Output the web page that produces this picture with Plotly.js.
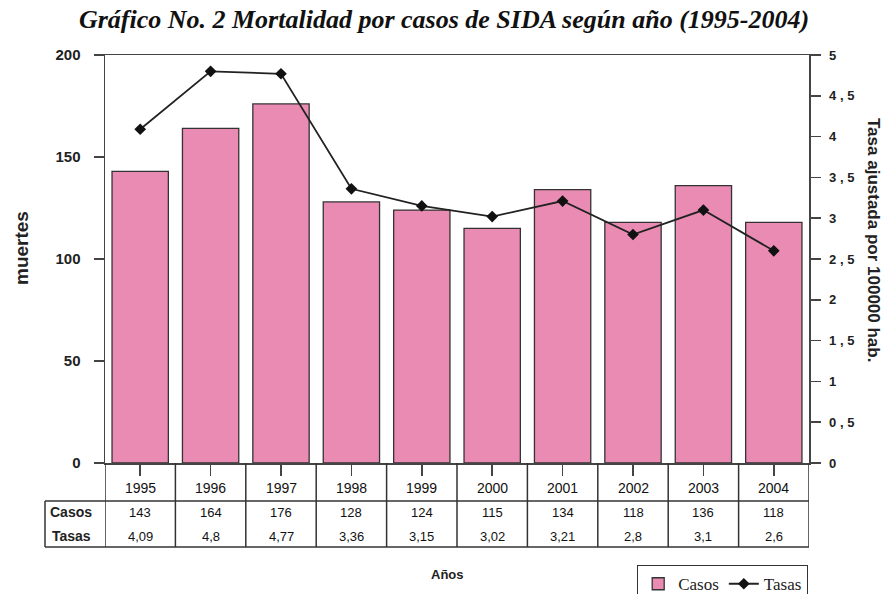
<!DOCTYPE html>
<html>
<head>
<meta charset="utf-8">
<script src="https://cdn.plot.ly/plotly-3.0.1.min.js"></script>
<style>html,body{margin:0;padding:0;background:#fff;}#chart{width:888px;height:594px;}</style>
</head>
<body>
<div id="chart"></div>
<script>
// ---- data ----
const years = ['1995','1996','1997','1998','1999','2000','2001','2002','2003','2004'];
const casos = [143, 164, 176, 128, 124, 115, 134, 118, 136, 118];
const tasas = [4.09, 4.8, 4.77, 3.36, 3.15, 3.02, 3.21, 2.8, 3.1, 2.6];
const leftTicks = [0, 50, 100, 150, 200];
const rightTickVals = [0, 0.5, 1, 1.5, 2, 2.5, 3, 3.5, 4, 4.5, 5];
const rightTickText = ['0', '0 , 5', '1', '1 , 5', '2', '2 , 5', '3', '3 , 5', '4', '4 , 5', '5'];
const rowLabels = ['Casos', 'Tasas'];

// ---- geometry ----
const W = 888, H = 594;
const mL = 105, mR = 79, mT = 55, mB = 131;
const plotH = H - mT - mB;           // 408
const plotW = W - mL - mR;           // 704
const py = px => -(px - (H - mB)) / plotH;   // pixel y -> paper y
const pxX = px => (px - mL) / plotW;         // pixel x -> paper x

const sans = 'Arial, "Liberation Sans", sans-serif';
const axisColor = '#444';
const textColor = '#222';

const traces = [
  {
    type: 'bar', name: 'Casos', x: years, y: casos,
    marker: {color: '#E98BB3', line: {color: '#333', width: 1.3}},
    width: 0.8, yaxis: 'y', hoverinfo: 'x+y'
  },
  {
    type: 'scatter', mode: 'lines+markers', name: 'Tasas', x: years, y: tasas,
    yaxis: 'y2', line: {color: '#222', width: 1.8},
    marker: {symbol: 'diamond', size: 9, color: '#111'}
  }
];

const annotations = [];
const shapes = [];
// table text (x given as category index)
years.forEach((yr, i) => {
  annotations.push({x: i, y: py(488), xref: 'x', yref: 'paper', text: yr, showarrow: false,
    xanchor: 'center', yanchor: 'middle', font: {family: sans, size: 14, color: '#111'}});
  annotations.push({x: i, y: py(512), xref: 'x', yref: 'paper', text: String(casos[i]), showarrow: false,
    xanchor: 'center', yanchor: 'middle', font: {family: sans, size: 13, color: '#111'}});
  annotations.push({x: i, y: py(536), xref: 'x', yref: 'paper', text: String(tasas[i]).replace('.', ','), showarrow: false,
    xanchor: 'center', yanchor: 'middle', font: {family: sans, size: 13, color: '#111'}});
});
rowLabels.forEach((lab, j) => {
  annotations.push({x: pxX(71), y: py(j === 0 ? 512 : 536), xref: 'paper', yref: 'paper', text: '<b>' + lab + '</b>',
    xanchor: 'center', yanchor: 'middle', showarrow: false, font: {family: sans, size: 14, color: textColor}});
});
annotations.push({x: pxX(447), y: py(574), xref: 'paper', yref: 'paper', text: '<b>Años</b>', showarrow: false,
  xanchor: 'center', yanchor: 'middle', font: {family: sans, size: 13, color: textColor}});
// right axis title (reads top to bottom)
annotations.push({x: pxX(874), y: py(240), xref: 'paper', yref: 'paper',
  text: '<b>Tasa ajustada por 100000 hab.</b>', textangle: 90, showarrow: false,
  xanchor: 'center', yanchor: 'middle', font: {family: sans, size: 17, color: '#222'}});
// left axis title
annotations.push({x: pxX(21), y: py(248), xref: 'paper', yref: 'paper',
  text: '<b>muertes</b>', textangle: -90, showarrow: false,
  xanchor: 'center', yanchor: 'middle', font: {family: sans, size: 19, color: '#222'}});

// table lines
const lineStyle = {color: '#333', width: 1.5};
for (let k = 0; k <= years.length; k++) {
  shapes.push({type: 'line', xref: 'x', yref: 'paper', x0: k - 0.5, x1: k - 0.5, y0: 0, y1: py(547), line: lineStyle});
}
shapes.push({type: 'line', xref: 'paper', yref: 'paper', x0: pxX(45), x1: 1, y0: py(501), y1: py(501), line: lineStyle});
shapes.push({type: 'line', xref: 'paper', yref: 'paper', x0: pxX(45), x1: 1, y0: py(547), y1: py(547), line: lineStyle});
shapes.push({type: 'line', xref: 'paper', yref: 'paper', x0: pxX(45), x1: pxX(45), y0: py(501), y1: py(547), line: lineStyle});

const layout = {
  width: W, height: H,
  margin: {l: mL, r: mR, t: mT, b: mB, autoexpand: false},
  paper_bgcolor: '#fff', plot_bgcolor: '#fff',
  title: {
    text: '<b><i>Gráfico No. 2 Mortalidad por casos de SIDA según año (1995-2004)</i></b>',
    font: {family: '"Liberation Serif", "Times New Roman", serif', size: 26, color: '#111'},
    x: 0.5, xref: 'container', xanchor: 'center', y: 1 - 19 / H, yanchor: 'middle', yref: 'container'
  },
  showlegend: true,
  legend: {
    orientation: 'h', x: pxX(637), y: py(565), xanchor: 'left', yanchor: 'top',
    bordercolor: '#333', borderwidth: 1.2, bgcolor: '#fff',
    font: {family: '"Liberation Serif", "Times New Roman", serif', size: 17, color: '#222'},
    traceorder: 'normal'
  },
  bargap: 0.2,
  xaxis: {
    type: 'category', range: [-0.5, years.length - 0.5], fixedrange: true,
    showline: true, linecolor: axisColor, linewidth: 1.5, mirror: true,
    ticks: 'outside', ticklen: 11, tickwidth: 1.5, tickcolor: axisColor,
    showticklabels: false, showgrid: false, zeroline: false
  },
  yaxis: {
    range: [0, 200], tickvals: leftTicks, ticktext: leftTicks.map(String),
    showline: true, linecolor: axisColor, linewidth: 1.5,
    ticks: 'outside', ticklen: 10, tickwidth: 1.5, tickcolor: axisColor,
    tickfont: {family: sans, size: 15, color: textColor, weight: 'bold'}, ticklabelstandoff: 10,
    showgrid: false, zeroline: false
  },
  yaxis2: {
    overlaying: 'y', side: 'right', range: [0, 5],
    tickvals: rightTickVals, ticktext: rightTickText,
    showline: true, linecolor: axisColor, linewidth: 1.5,
    ticks: 'outside', ticklen: 10, tickwidth: 1.5, tickcolor: axisColor,
    tickfont: {family: sans, size: 13, color: textColor, weight: 'bold'}, ticklabelstandoff: 6,
    showgrid: false, zeroline: false
  },
  annotations: annotations,
  shapes: shapes
};

Plotly.newPlot('chart', traces, layout, {displayModeBar: false, staticPlot: true});
</script>
</body>
</html>
